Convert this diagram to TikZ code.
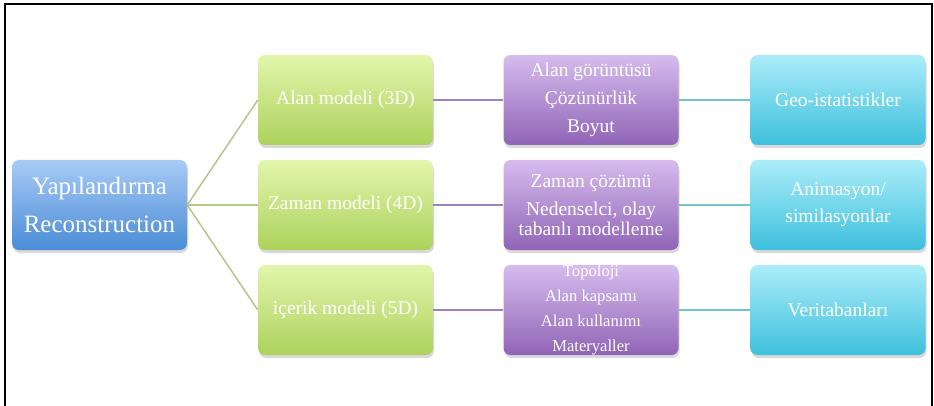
\documentclass[tikz,border=0pt]{standalone}
\usepackage{fontspec}
\setmainfont{Liberation Serif}
\usepackage{tikz}
\usepackage{xcolor}
\usetikzlibrary{calc,shadows}

\definecolor{rootTop}{HTML}{A8CBF6}
\definecolor{rootBot}{HTML}{4A8CD6}
\definecolor{greenTop}{HTML}{E2F6AC}
\definecolor{greenBot}{HTML}{ADD15C}
\definecolor{purpTop}{HTML}{D6BCEE}
\definecolor{purpBot}{HTML}{9064B6}
\definecolor{cyanTop}{HTML}{ABEDF9}
\definecolor{cyanBot}{HTML}{3EC0DD}
\definecolor{greenLine}{HTML}{B4C68A}
\definecolor{purpLine}{HTML}{9C82C2}
\definecolor{cyanLine}{HTML}{74C4D0}

\tikzset{
    box/.style={rounded corners=7pt, minimum width=175pt, minimum height=90pt,
        inner sep=0pt, align=center, text=white,
        drop shadow={shadow xshift=1pt, shadow yshift=-3pt, opacity=0.3}},
    rootbox/.style={box, top color=rootTop, bottom color=rootBot},
    modelbox/.style={box, top color=greenTop, bottom color=greenBot},
    detailbox/.style={box, top color=purpTop, bottom color=purpBot},
    usebox/.style={box, top color=cyanTop, bottom color=cyanBot},
    link/.style={line width=1.5pt}
}

\begin{document}
\begin{tikzpicture}[x=1pt, y=-1pt]
    \useasboundingbox (0,0) rectangle (934,406);
    % frame
    \draw[line width=2pt] (5,406) -- (5,4) -- (932,4) -- (932,406);

    % root
    \node[rootbox, font=\fontsize{25}{38}\selectfont] (root) at (99.5,205)
        {Yapılandırma\\Reconstruction};

    % models
    \node[modelbox, font=\fontsize{19.5}{28}\selectfont] (alan) at (345.5,100) {Alan modeli (3D)};
    \node[modelbox, font=\fontsize{19.5}{28}\selectfont] (zaman) at (345.5,205) {Zaman modeli (4D)};
    \node[modelbox, font=\fontsize{19.5}{28}\selectfont] (icerik) at (345.5,310) {içerik modeli (5D)};

    % details
    \node[detailbox, font=\fontsize{19.5}{28}\selectfont] (alanDet) at (591,100)
        {Alan görüntüsü\\Çözünürlük\\Boyut};
    \node[detailbox, font=\fontsize{19.5}{20}\selectfont] (zamanDet) at (591,205)
        {Zaman çözümü\\[8pt]Nedenselci, olay\\tabanlı modelleme};
    \node[detailbox, font=\fontsize{16.6}{25}\selectfont] (icerikDet) at (591,310)
        {Topoloji\\Alan kapsamı\\Alan kullanımı\\Materyaller};

    % uses
    \node[usebox, font=\fontsize{19.5}{27}\selectfont] (geo) at (838,100) {Geo-istatistikler};
    \node[usebox, font=\fontsize{19.5}{27}\selectfont] (anim) at (838,205) {Animasyon/\\similasyonlar};
    \node[usebox, font=\fontsize{19.5}{27}\selectfont] (veri) at (838,310) {Veritabanları};

    % connectors
    \draw[link, greenLine] (root.east) -- (alan.west);
    \draw[link, greenLine] (root.east) -- (zaman.west);
    \draw[link, greenLine] (root.east) -- (icerik.west);
    \draw[link, purpLine] (alan.east) -- (alanDet.west);
    \draw[link, purpLine] (zaman.east) -- (zamanDet.west);
    \draw[link, purpLine] (icerik.east) -- (icerikDet.west);
    \draw[link, cyanLine] (alanDet.east) -- (geo.west);
    \draw[link, cyanLine] (zamanDet.east) -- (anim.west);
    \draw[link, cyanLine] (icerikDet.east) -- (veri.west);
\end{tikzpicture}
\end{document}
